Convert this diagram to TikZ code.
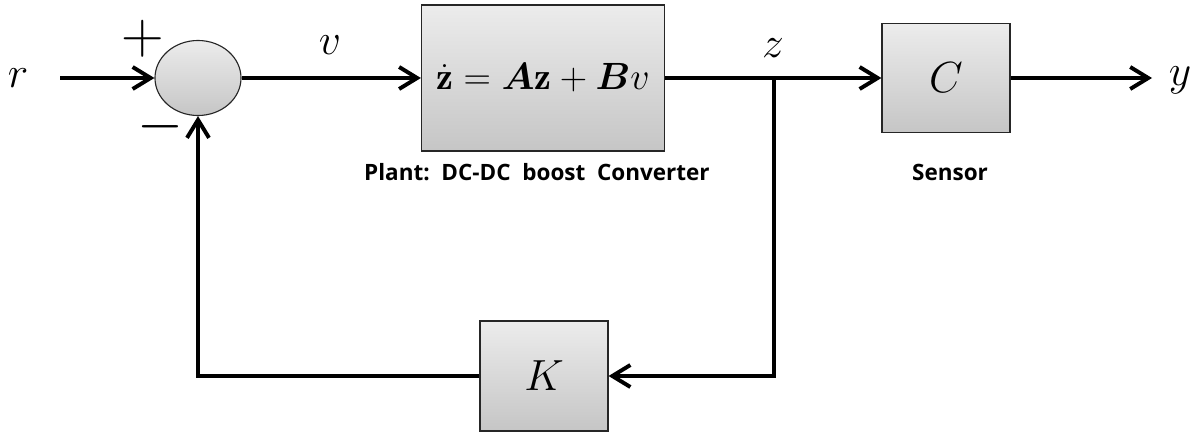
\RequirePackage{fix-cm}
\documentclass[tikz,border=0pt]{standalone}
\usepackage{fontspec}
\usepackage{bm}
\newfontfamily\labelfont{Open Sans}
\usetikzlibrary{arrows.meta,shapes.geometric}

\begin{document}
\begin{tikzpicture}[x=0.025cm, y=-0.025cm,
    sig/.style={line width=2.8pt},
    arr/.style={sig, -{Straight Barb[length=4.5mm, width=5.5mm]}},
    blok/.style={draw=black!85, line width=0.8pt, top color=gray!15, bottom color=gray!45,
                 font=\fontsize{31}{34}\selectfont},
    popis/.style={font=\labelfont\bfseries\fontsize{16}{18}\selectfont},
    znak/.style={font=\fontsize{31}{34}\selectfont},
    sgn/.style={font=\fontsize{42}{46}\selectfont, inner sep=0pt}]

\useasboundingbox (0,0) rectangle (1193,432);

% bloky
\node[ellipse, blok, minimum width=2.15cm, minimum height=1.875cm, inner sep=0pt] (sum) at (198,78) {};
\node[blok, minimum width=6.075cm, minimum height=3.65cm,
      font=\fontsize{27}{30}\selectfont] (plant) at (543,78)
     {$\dot{\mathbf{z}} = \bm{A}\mathbf{z} + \bm{B}v$};
\node[blok, minimum width=3.2cm, minimum height=2.725cm] (sensor) at (946,78) {$C$};
\node[blok, minimum width=3.2cm, minimum height=2.75cm] (gain) at (544,376) {$K$};

% popisky
\node[znak] (rlab) at (18,78) {$r$};
\node[sgn] (plus) at (143,39) {$+$};
\node[sgn] (minus) at (160,127) {$-$};
\node[znak] (vlab) at (330,45) {$v$};
\node[znak] (zlab) at (773,48) {$z$};
\node[znak] (ylab) at (1180,80) {$y$};
\node[popis] (plantlab) at (537,172) {Plant:\ \ DC-DC\ \ boost\ \ Converter};
\node[popis] (sensorlab) at (950,172) {Sensor};

% body
\coordinate (rin) at (60,78);
\coordinate (split) at (774,78);
\coordinate (yout) at (1152,78);

% šipky
\draw[arr] (rin) -- (sum.west);
\draw[arr] (sum.east) -- (plant.west);
\draw[sig] (plant.east) -- (split);
\draw[arr] (split) -- (sensor.west);
\draw[arr] (sensor.east) -- (yout);
\draw[arr] (split) |- (gain.east);
\draw[arr] (gain.west) -| (sum.south);

\end{tikzpicture}
\end{document}
